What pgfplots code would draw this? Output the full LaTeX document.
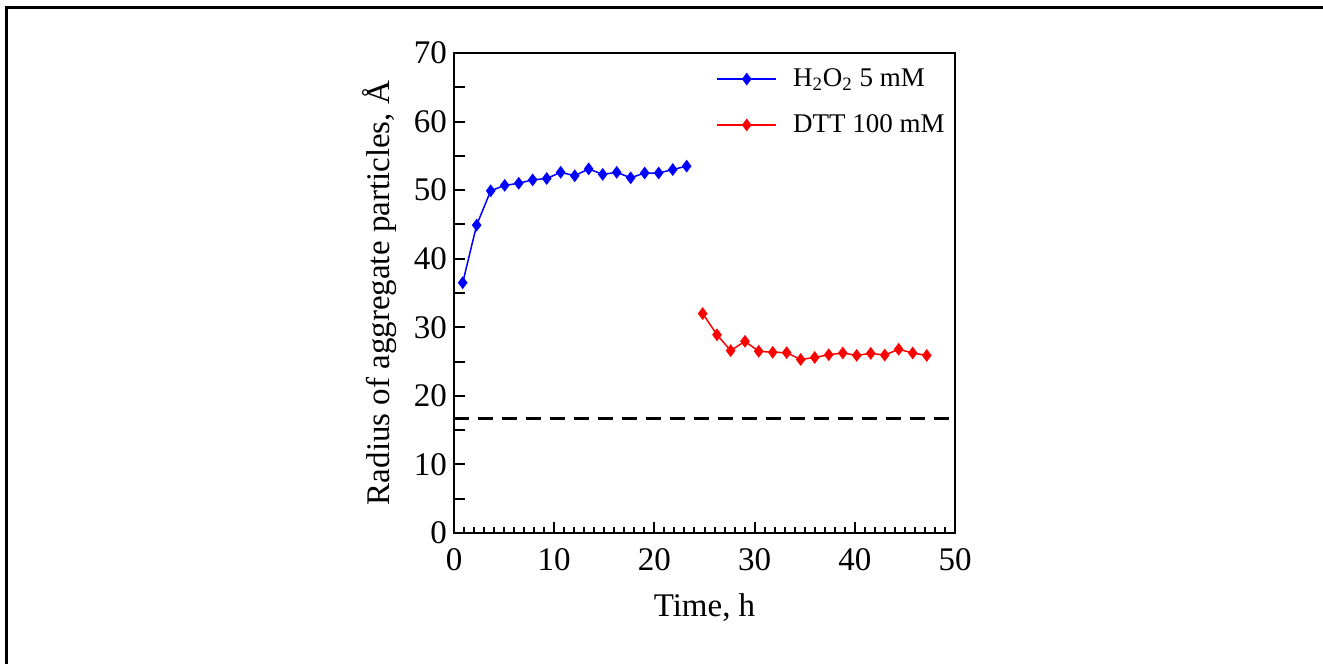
\documentclass[border=0pt]{standalone}
\usepackage{pgfplots}
\pgfplotsset{compat=1.18}
\usepackage{fontspec}
\setmainfont{Liberation Serif}
\begin{document}
\begin{tikzpicture}
\useasboundingbox (0,0) rectangle (661.5pt,332pt);
\draw[line width=1.5pt] (3pt,0) -- (3pt,328.25pt) -- (661.5pt,328.25pt);
\begin{axis}[
  at={(227pt,65.5pt)}, anchor=south west,
  scale only axis, width=250.5pt, height=240pt,
  xmin=0, xmax=50, ymin=0, ymax=70,
  xtick={0,10,...,50},
  minor x tick num=9,
  ytick={0,5,...,70},
  yticklabels={0,,10,,20,,30,,40,,50,,60,,70},
  tick pos=left, tick align=inside,
  major tick length=5.5pt, minor tick length=3pt,
  axis line style={line width=1.1pt},
  every tick/.style={black, line width=1pt},
  /pgf/number format/assume math mode=true,
  ticklabel style={font=\fontsize{16.5}{19}\selectfont},
  xticklabel style={yshift=-4pt},
  label style={font=\fontsize{16.5}{19}\selectfont},
  xlabel={Time, h},
  xlabel style={yshift=-5pt},
  ylabel={Radius of aggregate particles, Å},
  ylabel style={yshift=2pt},
  legend style={draw=none, fill=none, at={(0.511,0.985)}, anchor=north west,
    font=\fontsize{13.5}{16}\selectfont, row sep=8.5pt},
  legend cell align=left,
  legend image code/.code={\draw[mark repeat=2,mark phase=2,#1] plot coordinates {(0cm,0cm) (0.52cm,0cm) (1.04cm,0cm)};\path (1.25cm,0cm);},
]
\addplot[blue, line width=0.75pt, mark=diamond*, mark size=2.6pt, mark options={fill=blue}] coordinates {
(0.87,36.5) (2.26,44.9) (3.66,49.9) (5.06,50.7) (6.46,51.0) (7.85,51.5) (9.25,51.7)
(10.65,52.6) (12.05,52.1) (13.44,53.1) (14.84,52.3) (16.24,52.6) (17.63,51.8)
(19.03,52.5) (20.43,52.5) (21.83,53.0) (23.22,53.5)};
\addlegendentry{H\textsubscript{2}O\textsubscript{2} 5 mM}
\addplot[red, line width=0.75pt, mark=diamond*, mark size=2.6pt, mark options={fill=red}] coordinates {
(24.82,32.0) (26.25,28.9) (27.61,26.6) (29.04,27.95) (30.41,26.5) (31.81,26.35)
(33.20,26.3) (34.60,25.3) (36.00,25.6) (37.40,26.0) (38.80,26.25) (40.19,25.9)
(41.59,26.2) (42.99,25.95) (44.38,26.8) (45.78,26.25) (47.18,25.9)};
\addlegendentry{DTT 100 mM}
\addplot[black, line width=1.2pt, dash pattern=on 7.5pt off 4.5pt, forget plot] coordinates {(0,16.7) (50,16.7)};
\end{axis}
\end{tikzpicture}
\end{document}
